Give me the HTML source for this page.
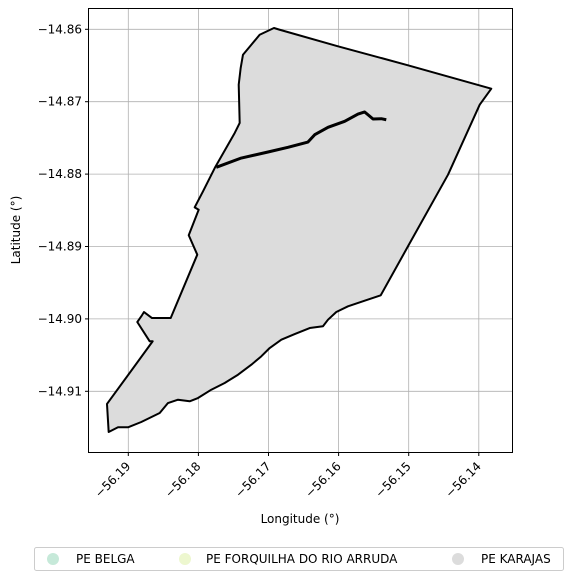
<!DOCTYPE html>
<html><head><meta charset="utf-8"><style>
body{margin:0;background:#fff;font-family:"Liberation Sans","DejaVu Sans",sans-serif}
svg text{font-family:"DejaVu Sans","Liberation Sans",sans-serif;font-size:12px;fill:#000}
</style></head><body>
<svg width="573" height="582" xmlns="http://www.w3.org/2000/svg">
<g id="grid"></g>
<g id="shapes"></g>
<rect x="88.5" y="8.5" width="424" height="444" fill="none" stroke="#000" stroke-width="1"/>
<g id="ticks"></g>
<text x="300" y="523" text-anchor="middle">Longitude (°)</text>
<text transform="translate(20,230) rotate(-90)" text-anchor="middle">Latitude (°)</text>
<g>
<rect x="34.5" y="547.5" width="529" height="23" rx="2" fill="#fff" stroke="#ccc"/>
<circle cx="53" cy="559" r="6" fill="#c6e9d9"/>
<text x="76" y="563">PE BELGA</text>
<circle cx="185" cy="559" r="6" fill="#edf7cf"/>
<text x="206" y="563">PE FORQUILHA DO RIO ARRUDA</text>
<circle cx="458" cy="559" r="6" fill="#dcdcdc"/>
<text x="481" y="563">PE KARAJAS</text>
</g>
</svg>
<script>
const xTicks=[-56.19,-56.18,-56.17,-56.16,-56.15,-56.14];
const yTicks=[-14.86,-14.87,-14.88,-14.89,-14.90,-14.91];
const xTickLabels=["−56.19","−56.18","−56.17","−56.16","−56.15","−56.14"];
const yTickLabels=["−14.86","−14.87","−14.88","−14.89","−14.90","−14.91"];
const karajasLon=[-56.19304,-56.1928,-56.19147,-56.19004,-56.18815,-56.18552,-56.18434,-56.18291,-56.18124,-56.18006,-56.17816,-56.17625,-56.17435,-56.17245,-56.17103,-56.16983,-56.16817,-56.16626,-56.16412,-56.16223,-56.16151,-56.16033,-56.15866,-56.15628,-56.15399,-56.1501,-56.14439,-56.13987,-56.13822,-56.1501,-56.16009,-56.1684,-56.16922,-56.17126,-56.17245,-56.17364,-56.17397,-56.17425,-56.17411,-56.17482,-56.17767,-56.17934,-56.18053,-56.17996,-56.18138,-56.18016,-56.18395,-56.18662,-56.18776,-56.18805,-56.18872,-56.18695,-56.18652];
const karajasLat=[-14.91175,-14.91562,-14.91497,-14.91497,-14.91424,-14.913,-14.91162,-14.91116,-14.91138,-14.91093,-14.90978,-14.90885,-14.90771,-14.90633,-14.90517,-14.90402,-14.90287,-14.90209,-14.90126,-14.90102,-14.90011,-14.89905,-14.89826,-14.89749,-14.89674,-14.88997,-14.88008,-14.87041,-14.8682,-14.86497,-14.86235,-14.86006,-14.85982,-14.86075,-14.86213,-14.86351,-14.86535,-14.86765,-14.87294,-14.87432,-14.87916,-14.88238,-14.88459,-14.88492,-14.88845,-14.89113,-14.89988,-14.89988,-14.89905,-14.8995,-14.90043,-14.90309,-14.90309];
const innerLon=[-56.17745,-56.17388,-56.17007,-56.16722,-56.16437,-56.16341,-56.16151,-56.15913,-56.15723,-56.15628,-56.15581,-56.15509,-56.15391,-56.1532];
const innerLat=[-14.87906,-14.87778,-14.87695,-14.8763,-14.87557,-14.87456,-14.87354,-14.87271,-14.8717,-14.87142,-14.8718,-14.87239,-14.87235,-14.87249];
const NS="http://www.w3.org/2000/svg";
const X=v=>128.3+(v+56.19)/0.01*70.1;
const Y=v=>29.3+(-14.86-v)/0.01*72.4;
const grid=document.getElementById('grid'),ticks=document.getElementById('ticks'),shapes=document.getElementById('shapes');
function mk(t,a,p){const e=document.createElementNS(NS,t);for(const k in a)e.setAttribute(k,a[k]);p.appendChild(e);return e;}
xTicks.forEach((v,i)=>{const x=X(v);
 const g=mk('line',{x1:x,x2:x,y1:8.5,y2:452.5,stroke:'#b0b0b0','stroke-width':0.8},grid);
 
 
 const t=mk('line',{x1:x,x2:x,y1:452.5,y2:456,stroke:'#000'},ticks);
 
 
 const l=mk('text',{transform:`translate(${x+3},${467}) rotate(-45)`,'text-anchor':'end'},ticks);
 l.textContent=xTickLabels[i];
 
 });
yTicks.forEach((v,i)=>{const y=Y(v);
 const g=mk('line',{x1:88.5,x2:512.5,y1:y,y2:y,stroke:'#b0b0b0','stroke-width':0.8},grid);
 
 
 const t=mk('line',{x1:85,x2:88.5,y1:y,y2:y,stroke:'#000'},ticks);
 
 
 const l=mk('text',{x:82,y:y+4,'text-anchor':'end'},ticks);
 l.textContent=yTickLabels[i];
 
 });
const pts=karajasLon.map((v,i)=>X(v)+','+Y(karajasLat[i])).join(' ');
const p=mk('polygon',{points:pts,fill:'#dcdcdc',stroke:'#000','stroke-width':2,'stroke-linejoin':'round'},shapes);


const ipts=innerLon.map((v,i)=>X(v)+','+Y(innerLat[i])).join(' ');
const q=mk('polyline',{points:ipts,fill:'none',stroke:'#000','stroke-width':3,'stroke-linejoin':'round'},shapes);


</script>
</body></html>
